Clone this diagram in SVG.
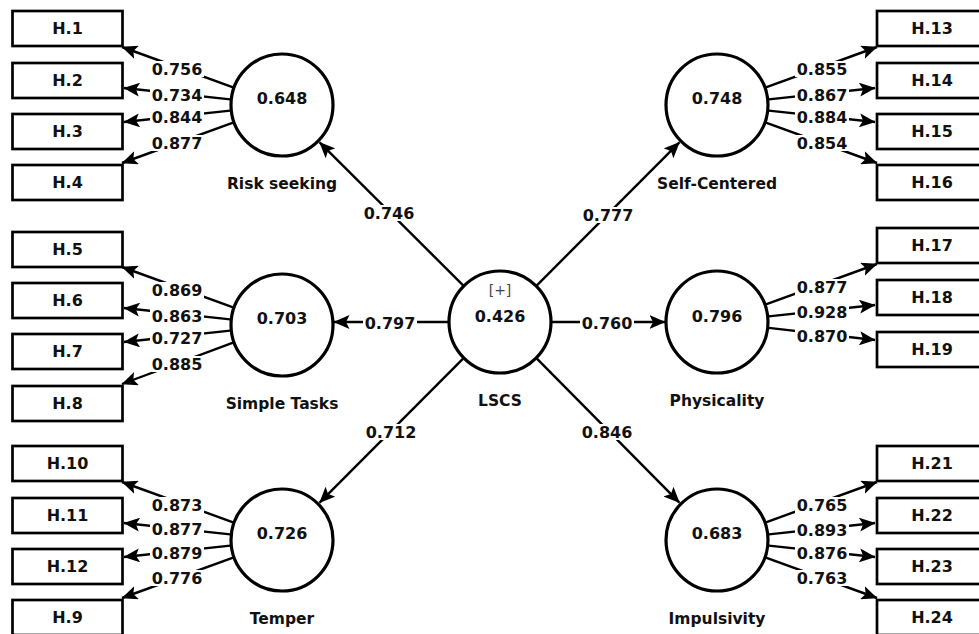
<svg xmlns="http://www.w3.org/2000/svg" width="979" height="634" viewBox="0 0 979 634">
<defs>
<style>
.box{fill:#fff;stroke:#000;stroke-width:2.7}
.lv{fill:#fff;stroke:#000;stroke-width:3.2}
.ln{stroke:#000;stroke-width:2.4;fill:none;marker-end:url(#ah)}
.bg{fill:#fff}
text{font-family:"DejaVu Sans","Liberation Sans",sans-serif;font-weight:bold;font-size:16px;text-anchor:middle;fill:#111}
text.n{font-size:15.5px}
text.p{font-weight:normal;font-size:14px;fill:#444}
</style>
<marker id="ah" viewBox="0 0 16 14" refX="15.5" refY="7" markerWidth="16" markerHeight="14" markerUnits="userSpaceOnUse" orient="auto">
<path d="M0,0 L16,7 L0,14 L3.5,7 z" fill="#000"/>
</marker>
</defs>
<rect width="979" height="634" fill="#fff"/>

<g id="connectors">
<line class="ln" x1="233.1" y1="87.3" x2="122" y2="47"/>
<line class="ln" x1="230.3" y1="99.4" x2="124" y2="88"/>
<line class="ln" x1="230.3" y1="110.6" x2="124" y2="122"/>
<line class="ln" x1="233.1" y1="122.7" x2="122" y2="163"/>
<line class="ln" x1="233.1" y1="307.3" x2="122" y2="267"/>
<line class="ln" x1="230.3" y1="319.4" x2="124" y2="308"/>
<line class="ln" x1="230.3" y1="330.6" x2="124" y2="342"/>
<line class="ln" x1="233.1" y1="342.7" x2="122" y2="384"/>
<line class="ln" x1="233.1" y1="522.3" x2="122" y2="482"/>
<line class="ln" x1="230.3" y1="534.4" x2="124" y2="523"/>
<line class="ln" x1="230.3" y1="545.6" x2="124" y2="557"/>
<line class="ln" x1="233.1" y1="557.7" x2="122" y2="598"/>
<line class="ln" x1="765.9" y1="87.3" x2="877" y2="47"/>
<line class="ln" x1="768.7" y1="99.4" x2="875" y2="88"/>
<line class="ln" x1="768.7" y1="110.6" x2="875" y2="122"/>
<line class="ln" x1="765.9" y1="122.7" x2="877" y2="163"/>
<line class="ln" x1="765.9" y1="304.3" x2="877" y2="264"/>
<line class="ln" x1="768.7" y1="316.4" x2="875" y2="305"/>
<line class="ln" x1="768.7" y1="327.9" x2="875" y2="340"/>
<line class="ln" x1="765.9" y1="522.3" x2="877" y2="482"/>
<line class="ln" x1="768.7" y1="534.4" x2="875" y2="523"/>
<line class="ln" x1="768.7" y1="545.6" x2="875" y2="557"/>
<line class="ln" x1="765.9" y1="557.7" x2="877" y2="598"/>
<line class="ln" x1="463.1" y1="285.3" x2="319.6" y2="142.4"/>
<line class="ln" x1="536.9" y1="285.3" x2="679.4" y2="142.4"/>
<line class="ln" x1="448" y1="322" x2="334" y2="322"/>
<line class="ln" x1="552" y1="322" x2="665" y2="322"/>
<line class="ln" x1="463.1" y1="358.7" x2="319.6" y2="502.6"/>
<line class="ln" x1="536.9" y1="358.7" x2="679.4" y2="502.6"/>

<g>
<rect class="bg" x="150" y="61" width="54" height="16"/><text x="177" y="74.8">0.756</text>
<rect class="bg" x="150" y="87" width="54" height="16"/><text x="177" y="100.8">0.734</text>
<rect class="bg" x="150" y="109" width="54" height="16"/><text x="177" y="122.8">0.844</text>
<rect class="bg" x="150" y="135" width="54" height="16"/><text x="177" y="148.8">0.877</text>

<rect class="bg" x="150" y="282" width="54" height="16"/><text x="177" y="295.8">0.869</text>
<rect class="bg" x="150" y="308" width="54" height="16"/><text x="177" y="321.8">0.863</text>
<rect class="bg" x="150" y="330" width="54" height="16"/><text x="177" y="343.8">0.727</text>
<rect class="bg" x="150" y="356" width="54" height="16"/><text x="177" y="369.8">0.885</text>

<rect class="bg" x="150" y="497" width="54" height="16"/><text x="177" y="510.8">0.873</text>
<rect class="bg" x="150" y="521" width="54" height="16"/><text x="177" y="534.8">0.877</text>
<rect class="bg" x="150" y="545" width="54" height="16"/><text x="177" y="558.8">0.879</text>
<rect class="bg" x="150" y="570" width="54" height="16"/><text x="177" y="583.8">0.776</text>

<rect class="bg" x="795" y="61" width="54" height="16"/><text x="822" y="74.8">0.855</text>
<rect class="bg" x="795" y="87" width="54" height="16"/><text x="822" y="100.8">0.867</text>
<rect class="bg" x="795" y="109" width="54" height="16"/><text x="822" y="122.8">0.884</text>
<rect class="bg" x="795" y="135" width="54" height="16"/><text x="822" y="148.8">0.854</text>

<rect class="bg" x="795" y="279" width="54" height="16"/><text x="822" y="292.8">0.877</text>
<rect class="bg" x="795" y="304" width="54" height="16"/><text x="822" y="317.8">0.928</text>
<rect class="bg" x="795" y="328" width="54" height="16"/><text x="822" y="341.8">0.870</text>

<rect class="bg" x="795" y="497" width="54" height="16"/><text x="822" y="510.8">0.765</text>
<rect class="bg" x="795" y="522" width="54" height="16"/><text x="822" y="535.8">0.893</text>
<rect class="bg" x="795" y="545" width="54" height="16"/><text x="822" y="558.8">0.876</text>
<rect class="bg" x="795" y="570" width="54" height="16"/><text x="822" y="583.8">0.763</text>

<rect class="bg" x="362" y="205" width="54" height="16"/><text x="389" y="218.8">0.746</text>
<rect class="bg" x="581" y="207" width="54" height="16"/><text x="608" y="220.8">0.777</text>
<rect class="bg" x="363" y="315" width="54" height="16"/><text x="390" y="328.8">0.797</text>
<rect class="bg" x="580" y="315" width="54" height="16"/><text x="607" y="328.8">0.760</text>
<rect class="bg" x="364" y="424" width="54" height="16"/><text x="391" y="437.8">0.712</text>
<rect class="bg" x="580" y="424" width="54" height="16"/><text x="607" y="437.8">0.846</text>
</g>
</g>

<g id="risk-seeking"><circle class="lv" cx="282" cy="105" r="51"/><text x="282" y="104">0.648</text><text class="n" x="282" y="189">Risk seeking</text></g>
<g id="simple-tasks"><circle class="lv" cx="282" cy="325" r="51"/><text x="282" y="324">0.703</text><text class="n" x="282" y="409">Simple Tasks</text></g>
<g id="temper"><circle class="lv" cx="282" cy="540" r="51"/><text x="282" y="539">0.726</text><text class="n" x="282" y="624">Temper</text></g>
<g id="lscs"><circle class="lv" cx="500" cy="322" r="51"/><text class="p" x="500" y="295">[+]</text><text x="500" y="322">0.426</text><text class="n" x="500" y="406">LSCS</text></g>
<g id="self-centered"><circle class="lv" cx="717" cy="105" r="51"/><text x="717" y="104">0.748</text><text class="n" x="717" y="189">Self-Centered</text></g>
<g id="physicality"><circle class="lv" cx="717" cy="322" r="51"/><text x="717" y="322">0.796</text><text class="n" x="717" y="406">Physicality</text></g>
<g id="impulsivity"><circle class="lv" cx="717" cy="540" r="51"/><text x="717" y="539">0.683</text><text class="n" x="717" y="624">Impulsivity</text></g>

<g id="H1"><rect class="box" x="12.5" y="11" width="110" height="35"/><text x="67.5" y="34.3">H.1</text></g>
<g id="H2"><rect class="box" x="12.5" y="63" width="110" height="35"/><text x="67.5" y="86.3">H.2</text></g>
<g id="H3"><rect class="box" x="12.5" y="114" width="110" height="35"/><text x="67.5" y="137.3">H.3</text></g>
<g id="H4"><rect class="box" x="12.5" y="165" width="110" height="35"/><text x="67.5" y="188.3">H.4</text></g>
<g id="H5"><rect class="box" x="12.5" y="232" width="110" height="35"/><text x="67.5" y="255.3">H.5</text></g>
<g id="H6"><rect class="box" x="12.5" y="283" width="110" height="35"/><text x="67.5" y="306.3">H.6</text></g>
<g id="H7"><rect class="box" x="12.5" y="334" width="110" height="35"/><text x="67.5" y="357.3">H.7</text></g>
<g id="H8"><rect class="box" x="12.5" y="386" width="110" height="35"/><text x="67.5" y="409.3">H.8</text></g>
<g id="H10"><rect class="box" x="12.5" y="446" width="110" height="35"/><text x="67.5" y="469.3">H.10</text></g>
<g id="H11"><rect class="box" x="12.5" y="498" width="110" height="35"/><text x="67.5" y="521.3">H.11</text></g>
<g id="H12"><rect class="box" x="12.5" y="549" width="110" height="35"/><text x="67.5" y="572.3">H.12</text></g>
<g id="H9"><rect class="box" x="12.5" y="600" width="110" height="35"/><text x="67.5" y="623.3">H.9</text></g>

<g id="H13"><rect class="box" x="877" y="11" width="110" height="35"/><text x="932" y="34.3">H.13</text></g>
<g id="H14"><rect class="box" x="877" y="63" width="110" height="35"/><text x="932" y="86.3">H.14</text></g>
<g id="H15"><rect class="box" x="877" y="114" width="110" height="35"/><text x="932" y="137.3">H.15</text></g>
<g id="H16"><rect class="box" x="877" y="165" width="110" height="35"/><text x="932" y="188.3">H.16</text></g>
<g id="H17"><rect class="box" x="877" y="228" width="110" height="35"/><text x="932" y="251.3">H.17</text></g>
<g id="H18"><rect class="box" x="877" y="280" width="110" height="35"/><text x="932" y="303.3">H.18</text></g>
<g id="H19"><rect class="box" x="877" y="332" width="110" height="35"/><text x="932" y="355.3">H.19</text></g>
<g id="H21"><rect class="box" x="877" y="446" width="110" height="35"/><text x="932" y="469.3">H.21</text></g>
<g id="H22"><rect class="box" x="877" y="498" width="110" height="35"/><text x="932" y="521.3">H.22</text></g>
<g id="H23"><rect class="box" x="877" y="549" width="110" height="35"/><text x="932" y="572.3">H.23</text></g>
<g id="H24"><rect class="box" x="877" y="600" width="110" height="35"/><text x="932" y="623.3">H.24</text></g>
</svg>
